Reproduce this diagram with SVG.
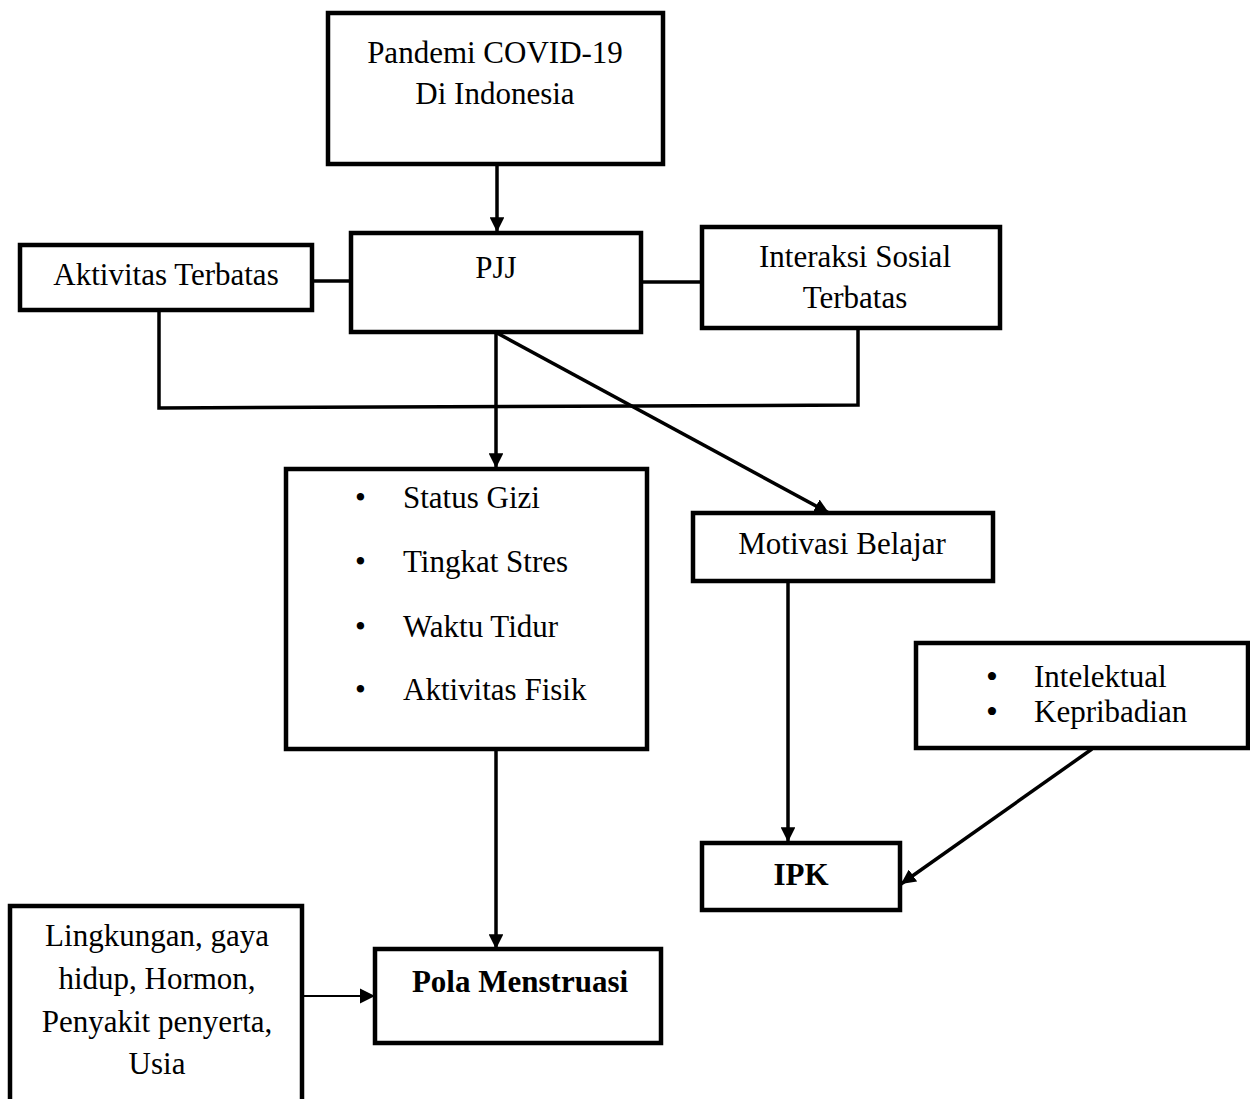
<svg xmlns="http://www.w3.org/2000/svg" width="1250" height="1099" viewBox="0 0 1250 1099">
<style>
.box{fill:#fff;stroke:#000;stroke-width:4.5}
.ln{fill:none;stroke:#000;stroke-width:3.5}
.t{font-family:"Liberation Serif","Times New Roman",serif;font-size:31px;fill:#000}
.c{text-anchor:middle}
.b{font-weight:bold}
.big{font-size:34px}
</style>
<defs>
<marker id="ah" viewBox="0 0 10 10" refX="10" refY="5" markerWidth="4.2" markerHeight="4.2" orient="auto" markerUnits="strokeWidth">
<path d="M0,0 L10,5 L0,10 z" fill="#000"/>
</marker>
<marker id="ah2" viewBox="0 0 10 10" refX="10" refY="5" markerWidth="7" markerHeight="7" orient="auto" markerUnits="strokeWidth">
<path d="M0,0 L10,5 L0,10 z" fill="#000"/>
</marker>
</defs>
<rect width="1250" height="1099" fill="#fff"/>
<g id="connectors">
<line class="ln" x1="497" y1="164" x2="497" y2="232" marker-end="url(#ah)"/>
<line class="ln" x1="312" y1="281" x2="351" y2="281"/>
<line class="ln" x1="641" y1="282" x2="702" y2="282"/>
<polyline class="ln" points="159,310 159,408 858,405 858,328"/>
<line class="ln" x1="496" y1="332" x2="496" y2="468" marker-end="url(#ah)"/>
<line class="ln" x1="497" y1="333" x2="829" y2="513" marker-end="url(#ah)"/>
<line class="ln" x1="788" y1="581" x2="788" y2="842" marker-end="url(#ah)"/>
<line class="ln" x1="1092" y1="749" x2="901" y2="884" marker-end="url(#ah)"/>
<line class="ln" x1="496" y1="750" x2="496" y2="949" marker-end="url(#ah)"/>
<line x1="302" y1="996" x2="375" y2="996" stroke="#000" stroke-width="2.2" marker-end="url(#ah2)"/>
</g>
<g id="pandemi">
<rect class="box" x="328" y="13" width="335" height="151"/>
<text class="t c" x="495" y="63">Pandemi COVID-19</text>
<text class="t c" x="495" y="104">Di Indonesia</text>
</g>
<g id="pjj">
<rect class="box" x="351" y="233" width="290" height="99"/>
<text class="t c" x="496" y="278">PJJ</text>
</g>
<g id="aktivitas">
<rect class="box" x="20" y="245" width="292" height="65"/>
<text class="t c" x="166" y="285">Aktivitas Terbatas</text>
</g>
<g id="interaksi">
<rect class="box" x="702" y="227" width="298" height="101"/>
<text class="t c" x="855" y="267">Interaksi Sosial</text>
<text class="t c" x="855" y="308">Terbatas</text>
</g>
<g id="faktor">
<rect class="box" x="286" y="469" width="361" height="280"/>
<text class="t" x="355" y="508">•</text><text class="t" x="403" y="508">Status Gizi</text>
<text class="t" x="355" y="572">•</text><text class="t" x="403" y="572">Tingkat Stres</text>
<text class="t" x="355" y="637">•</text><text class="t" x="403" y="637">Waktu Tidur</text>
<text class="t" x="355" y="700">•</text><text class="t" x="403" y="700">Aktivitas Fisik</text>
</g>
<g id="motivasi">
<rect class="box" x="693" y="513" width="300" height="68"/>
<text class="t c" x="842" y="554">Motivasi Belajar</text>
</g>
<g id="intelektual">
<rect class="box" x="916" y="643" width="332" height="105"/>
<text class="t big" x="986" y="688">•</text><text class="t" x="1034" y="687">Intelektual</text>
<text class="t big" x="986" y="723">•</text><text class="t" x="1034" y="722">Kepribadian</text>
</g>
<g id="ipk">
<rect class="box" x="702" y="843" width="198" height="67"/>
<text class="t c b" x="801" y="885">IPK</text>
</g>
<g id="pola">
<rect class="box" x="375" y="949" width="286" height="94"/>
<text class="t c b" x="520" y="992">Pola Menstruasi</text>
</g>
<g id="lingkungan">
<rect class="box" x="10" y="906" width="292" height="200"/>
<text class="t c" x="157" y="946">Lingkungan, gaya</text>
<text class="t c" x="157" y="989">hidup, Hormon,</text>
<text class="t c" x="157" y="1032">Penyakit penyerta,</text>
<text class="t c" x="157" y="1074">Usia</text>
</g>
</svg>
